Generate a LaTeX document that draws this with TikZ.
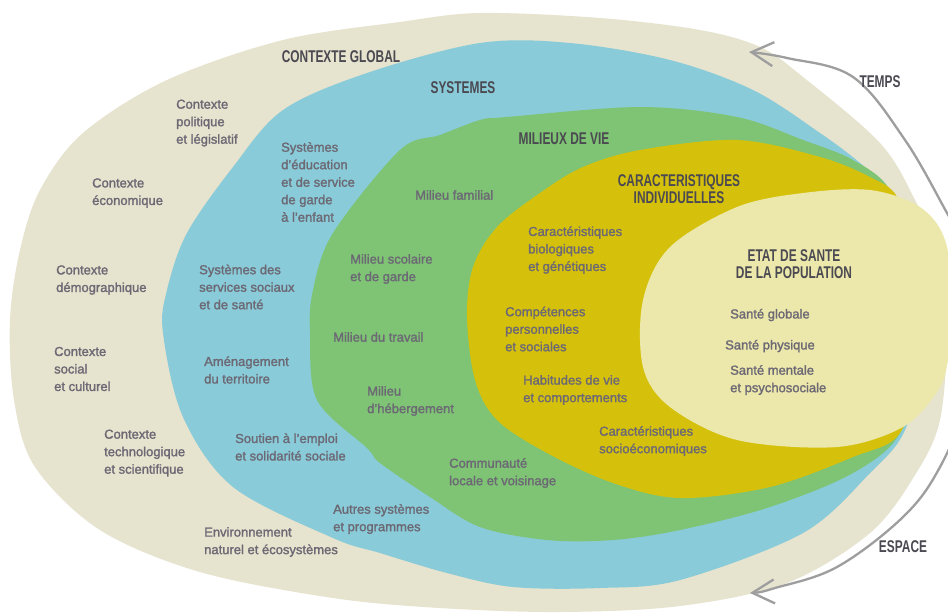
\documentclass[tikz,border=0pt]{standalone}
\usepackage{fontspec}
\setmainfont{Liberation Sans}
\newfontfamily\corps[FakeBold=1.6]{Liberation Sans}
\newfontfamily\titlefont[FakeStretch=0.7]{Liberation Sans}
\usetikzlibrary{arrows.meta}
\definecolor{beige}{RGB}{230,227,206}
\definecolor{bleu}{RGB}{137,203,216}
\definecolor{vert}{RGB}{126,196,116}
\definecolor{jaune}{RGB}{213,193,12}
\definecolor{paille}{RGB}{236,232,172}
\definecolor{encre}{RGB}{108,104,116}
\definecolor{fleche}{RGB}{158,158,158}

\begin{document}
\begin{tikzpicture}[x=1pt,y=-1pt,
    zone/.style ={smooth cycle, tension=0.55},
    txt/.style ={anchor=west, align=left, inner sep=0pt, text=encre,
                 font=\corps\fontsize{13}{17.5}\selectfont},
    titre/.style ={align=center, inner sep=0pt, text=encre!70!black,
                 font=\titlefont\bfseries\fontsize{17}{17}\selectfont},
    barb/.tip ={Straight Barb[length=22pt, width=24pt]}]
   \useasboundingbox (0,0) rectangle (948,614);
   \clip (0,0) rectangle (948,614);
   \fill[white] (0,0) rectangle (948,614);

   \fill[beige] plot[zone] coordinates {(480,13) (600,18) (700,30) (760,47) (803,77)
      (880,143) (915,200) (940,260) (947,330) (940,420) (915,475) (870,533) (787,583)
      (680,606) (560,612) (440,608) (333,598) (200,572) (100,530) (35,467) (14,400)
      (10,320) (20,250) (40,190) (83,133) (167,80) (283,40) (400,22)};
   \fill[bleu] plot[zone] coordinates {(480,43) (570,43) (670,60) (753,90) (820,133)
      (860,163) (893,195) (920,260) (925,350) (905,430) (870,473) (803,533) (680,580)
      (600,588) (513,587) (447,573) (380,553) (333,538) (233,487) (183,417) (163,333)
      (167,290) (187,233) (233,167) (283,110) (367,73)};
   \fill[vert] plot[zone] coordinates {(480,120) (507,117) (640,107) (737,117) (803,140)
      (853,160) (890,190) (915,260) (915,360) (900,433) (853,473) (770,507) (680,530)
      (613,540) (547,540) (480,527) (430,497) (380,463) (367,448) (317,400) (310,333)
      (313,290) (333,233) (400,150) (440,135)};
   \fill[jaune] plot[zone] coordinates {(583,167) (640,150) (737,140) (820,157)
      (870,177) (898,198) (920,260) (920,360) (900,433) (853,457) (770,487) (680,498)
      (613,483) (547,453) (497,420) (475,380) (467,317) (473,267) (497,227) (540,193)};
   \fill[paille] plot[zone] coordinates {(643,300) (670,247) (737,207) (803,193)
      (870,190) (920,207) (945,240) (952,300) (948,360) (937,392) (903,427) (837,447)
      (737,440) (670,407) (643,367)};

   \coordinate (espace tip) at (750,593);
   \coordinate (temps tip) at (749,52);
   \draw[fleche, line width=2.3pt, line cap=round, barb-barb] plot[smooth, tension=0.6]
      coordinates {(espace tip) (775,588) (837,567) (903,517) (940,467) (972,390)
      (982,320) (972,260) (947,213) (905,140) (853,77) (787,58) (temps tip)};

   \node[titre] (global)   at (341,57)  {CONTEXTE GLOBAL};
   \node[titre] (systemes) at (463,88)  {SYSTEMES};
   \node[titre] (milieux)  at (564,139) {MILIEUX DE VIE};
   \node[titre] (caract)   at (679,189) {CARACTERISTIQUES\\INDIVIDUELLES};
   \node[titre] (etat)     at (794,264) {ETAT DE SANTE\\DE LA POPULATION};
   \node[titre] (temps)    at (880,82)  {TEMPS};
   \node[titre] (espace)   at (903,547) {ESPACE};

   \node[txt] (cpol)  at (176,123) {Contexte\\politique\\et législatif};
   \node[txt] (ceco)  at (92,193)   {Contexte\\économique};
   \node[txt] (cdem)  at (56,280)   {Contexte\\démographique};
   \node[txt] (csoc)  at (54,369)   {Contexte\\social\\et culturel};
   \node[txt] (ctech) at (104,453)  {Contexte\\technologique\\et scientifique};
   \node[txt] (cenv)  at (204,542)  {Environnement\\naturel et écosystèmes};

   \node[txt] (seduc) at (281,182)  {Systèmes\\d’éducation\\et de service\\de garde\\à l’enfant};
   \node[txt] (ssoc)  at (199,287)  {Systèmes des\\services sociaux\\et de santé};
   \node[txt] (samen) at (204,370)  {Aménagement\\du territoire};
   \node[txt] (semp)  at (235,447)  {Soutien à l’emploi\\et solidarité sociale};
   \node[txt] (sautr) at (333,519)  {Autres systèmes\\et programmes};

   \node[txt] (mfam)  at (415,195)  {Milieu familial};
   \node[txt] (mscol) at (350,269)  {Milieu scolaire\\et de garde};
   \node[txt] (mtrav) at (333,337)  {Milieu du travail};
   \node[txt] (mheb)  at (367,401)  {Milieu\\d’hébergement};
   \node[txt] (mcomm) at (449,473)  {Communauté\\locale et voisinage};

   \node[txt] (cbio)   at (528,250) {Caractéristiques\\biologiques\\et génétiques};
   \node[txt] (ccomp)  at (505,329) {Compétences\\personnelles\\et sociales};
   \node[txt] (chab)   at (523,390) {Habitudes de vie\\et comportements};
   \node[txt] (csocio) at (599,441) {Caractéristiques\\socioéconomiques};

   \node[txt] (sglob) at (730,315)  {Santé globale};
   \node[txt] (sphys) at (725,346)  {Santé physique};
   \node[txt] (sment) at (730,380)  {Santé mentale\\et psychosociale};
 \end{tikzpicture}
\end{document}
